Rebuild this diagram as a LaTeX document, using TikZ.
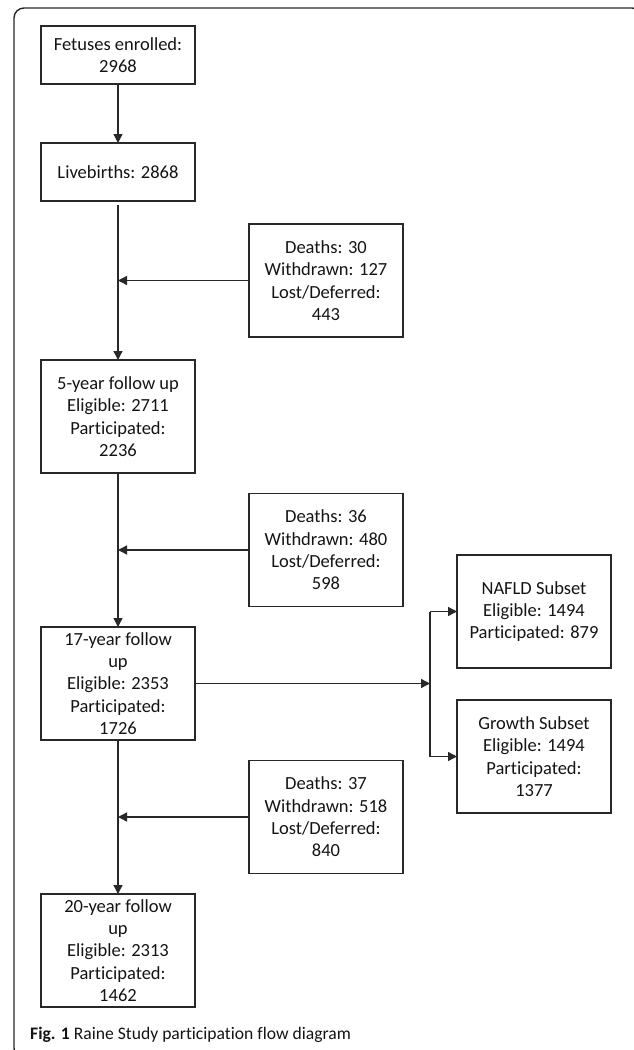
\documentclass[tikz,border=0pt]{standalone}
\usepackage{fontspec}
\setmainfont{Carlito}[Ligatures=CommonOff]
\usetikzlibrary{arrows.meta,positioning,calc}
\definecolor{LineGrey}{RGB}{40,40,40}
\definecolor{TextGrey}{RGB}{20,20,20}
\tikzset{
  smallbox/.style={draw=LineGrey,line width=1.3pt,minimum width=154pt,
    minimum height=58pt,inner sep=0pt,outer sep=0pt,align=center,
    text=TextGrey,font=\fontsize{18.5}{22.3}\selectfont},
  bigbox/.style={smallbox,minimum height=113pt},
  arrow/.style={-{Triangle[length=9pt,width=9pt]},line width=1.3pt,LineGrey},
  bracket/.style={line width=2pt,LineGrey},
  frame/.style={draw=LineGrey,line width=1.4pt,rounded corners=10pt},
  caption/.style={anchor=base west,inner sep=0pt,text=TextGrey,
    font=\fontsize{17.6}{22}\selectfont}
}
\begin{document}
\begin{tikzpicture}[x=1pt,y=1pt]
      \useasboundingbox (0,0) rectangle (633,-1050);
      \draw[frame] (14,-8) rectangle (642,-1058);

      % main column
      \node[smallbox] (enrolled) at (118,-55) {Fetuses enrolled:\\2968};
      \node[smallbox,below=59pt of enrolled] (live) {Livebirths: 2868};
      \node[bigbox,below=159pt of live] (five)
        {5-year follow up\\Eligible: 2711\\Participated:\\2236};
      \node[bigbox,below=154pt of five] (seventeen)
        {17-year follow\\up\\Eligible: 2353\\Participated:\\1726};
      \node[bigbox,below=154pt of seventeen] (twenty)
        {20-year follow\\up\\Eligible: 2313\\Participated:\\1462};

      % losses between waves
      \coordinate (j1) at ($(live.south)!0.5!(five.north)$);
      \coordinate (j2) at ($(five.south)!0.5!(seventeen.north)$);
      \coordinate (j3) at ($(seventeen.south)!0.5!(twenty.north)$);
      \node[bigbox,right=131pt of j1] (loss1)
        {Deaths: 30\\Withdrawn: 127\\Lost/Deferred:\\443};
      \node[bigbox,right=131pt of j2] (loss2)
        {Deaths: 36\\Withdrawn: 480\\Lost/Deferred:\\598};
      \node[bigbox,right=131pt of j3] (loss3)
        {Deaths: 37\\Withdrawn: 518\\Lost/Deferred:\\840};

      % subsets
      \coordinate[right=235pt of seventeen.east] (split);
      \node[bigbox,right=27pt of split,yshift=72pt] (nafld)
        {NAFLD Subset\\Eligible: 1494\\Participated: 879};
      \node[bigbox,right=27pt of split,yshift=-73pt] (growth)
        {Growth Subset\\Eligible: 1494\\Participated:\\1377};

      \draw[arrow] (enrolled) -- (live);
      \draw[arrow,shorten <=4pt] (live) -- (five);
      \draw[arrow] (five) -- (seventeen);
      \draw[arrow] (seventeen) -- (twenty);
      \draw[arrow] (loss1) -- (j1);
      \draw[arrow] (loss2) -- (j2);
      \draw[arrow] (loss3) -- (j3);
      \draw[arrow] (seventeen.east) -- (split);
      \draw[bracket] (split |- nafld.west) -- (split |- growth.west);
      \draw[arrow] (split |- nafld.west) -- (nafld.west);
      \draw[arrow] (split |- growth.west) -- (growth.west);

      \node[caption] (caption) at (30,-1039)
        {\textbf{Fig. 1} Raine Study participation flow diagram};
    \end{tikzpicture}
\end{document}
